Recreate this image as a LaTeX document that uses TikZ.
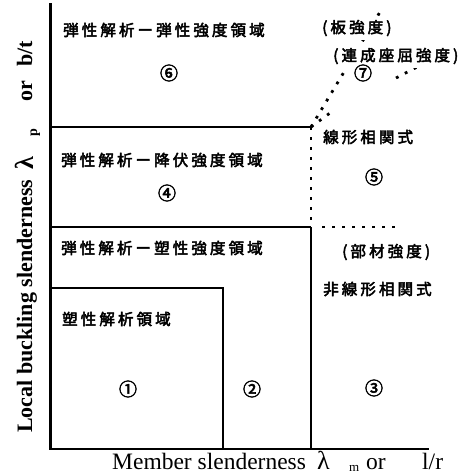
\documentclass[tikz,border=0pt]{standalone}
\usepackage{fontspec}
\setmainfont{Liberation Serif}
\newfontfamily\cjk{Noto Sans CJK JP}[LetterSpace=20, FakeBold=3]
\newfontfamily\cjknum{Noto Sans CJK JP}[FakeBold=3]
\begin{document}
\begin{tikzpicture}[x=1pt,y=-1pt,
  jp/.style={font=\cjk\fontsize{15.5}{17}\selectfont, anchor=west, inner sep=0pt},
  jpw/.style={jp, fill=white, inner xsep=2pt, inner ysep=3.5pt},
  num/.style={font=\cjknum\fontsize{18}{18}\selectfont, inner sep=0pt},
  axisline/.style={line width=2.7pt},
  bound/.style={line width=2.5pt},
  boxline/.style={line width=2pt},
  dotline/.style={line width=2.8pt, dash pattern=on 2.8pt off 7.2pt},
  ylab/.style={rotate=90, anchor=base west, inner sep=0pt, font=\bfseries\fontsize{22}{24}\selectfont},
  xlab/.style={anchor=base west, inner sep=0pt, font=\fontsize{23.5}{26}\selectfont}]
\useasboundingbox (0,0) rectangle (467,474);
% coordinates
\coordinate (O) at (50.5,449);
\coordinate (Ytop) at (50.5,3);
\coordinate (Xend) at (429,449);
\coordinate (A1) at (50.5,127);
\coordinate (A2) at (311,127);
\coordinate (B1) at (50.5,227);
\coordinate (B2) at (311,227);
\coordinate (B2r) at (322,227);
\coordinate (B3) at (400,227);
\coordinate (C) at (311,449);
\coordinate (E1) at (50.5,288);
\coordinate (E2) at (223,288);
\coordinate (E3) at (223,449);
\coordinate (Atop) at (383,7);
\coordinate (Bm1) at (334,110);
\coordinate (Bm2) at (396,78);
\coordinate (Bend) at (419,66);
% lines
\draw[axisline] (Ytop) -- (O) -- (Xend);
\draw[bound] (A1) -- (A2);
\draw[bound] (B1) -- (B2);
\draw[bound] (B2) -- (C);
\draw[boxline] (E1) -- (E2) -- (E3);
\draw[dotline] (A2) -- (B2);
\draw[dotline] (B2r) -- (B3);
\draw[dotline] (A2) -- (Atop);
\draw[dotline] (A2) -- (Bm1);
\draw[dotline] (Bm2) -- (Bend);
% region labels
\node[jp] (t6) at (63,30) {弾性解析ー弾性強度領域};
\node[jp] (t4) at (61,160) {弾性解析ー降伏強度領域};
\node[jp] (t2) at (61,248) {弾性解析ー塑性強度領域};
\node[jp] (t1) at (62,319) {塑性解析領域};
\node[jpw] (tp) at (320,28) {(板強度)};
\node[jpw] (tc) at (331,56) {(連成座屈強度)};
\node[jp] (t5) at (323,137) {線形相関式};
\node[jp] (tm) at (342,252) {(部材強度)};
\node[jp] (t3) at (323,289) {非線形相関式};
% numbers
\node[num] (n6) at (169,73) {⑥};
\node[num] (n4) at (167,193) {④};
\node[num] (n1) at (128,389) {①};
\node[num] (n2) at (252,389) {②};
\node[num] (n3) at (374,388) {③};
\node[num] (n5) at (374,177) {⑤};
\node[num] (n7) at (363,73) {⑦};
% axis labels
\node[ylab] (y1) at (32,433) {Local buckling slenderness};
\node[ylab, font=\bfseries\fontsize{26}{28}\selectfont] (y2) at (33,170) {λ};
\node[ylab, font=\bfseries\fontsize{14}{16}\selectfont] (y3) at (37,137) {p};
\node[ylab] (y4) at (32,102) {or};
\node[ylab] (y5) at (32,67) {b/t};
\node[xlab] (x1) at (112,469) {Member slenderness};
\node[xlab, font=\fontsize{26}{28}\selectfont] (x2) at (317,469) {λ};
\node[xlab, font=\fontsize{13}{15}\selectfont] (x3) at (349,471) {m};
\node[xlab] (x4) at (366,469) {or};
\node[xlab] (x5) at (422,469) {l/r};
\end{tikzpicture}
\end{document}
